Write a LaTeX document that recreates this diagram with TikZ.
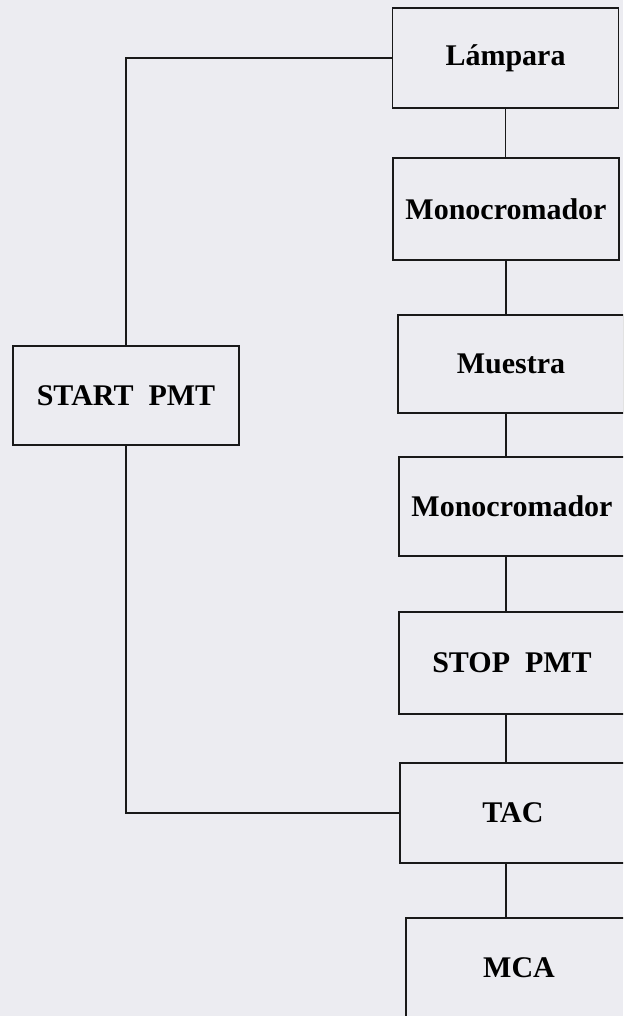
\documentclass[tikz,border=0pt]{standalone}
\usepackage{fontspec}
\setmainfont{Liberation Serif}
\definecolor{paper}{RGB}{236,236,241}
\definecolor{ink}{RGB}{25,25,25}
\begin{document}
\begin{tikzpicture}[x=1pt,y=-1pt,
  box/.style={draw=ink,line width=1.4pt,minimum width=226pt,minimum height=100pt,inner sep=0pt,
    font=\fontsize{30}{36}\selectfont\bfseries,text=black},
  wire/.style={draw=ink,line width=1.4pt}]
\useasboundingbox (0,0) rectangle (623,1016);
\fill[paper] (0,0) rectangle (623,1016);
\clip (0,0) rectangle (623,1016);
\node[box,minimum height=100pt] (lamp) at (505.5,58) {Lámpara};
\node[box,minimum height=102pt] (mono1) at (506,209) {Monocromador};
\node[box,minimum height=98pt] (muestra) at (511,364) {Muestra};
\node[box,minimum height=99pt] (mono2) at (512,506.5) {Monocromador};
\node[box,minimum height=102pt] (stop) at (512,663) {STOP\ \ PMT};
\node[box,minimum height=100pt] (tac) at (513,813) {TAC};
\node[box,minimum height=100pt] (mca) at (519,968) {MCA};
\node[box,minimum height=99pt] (start) at (126,395.5) {START\ \ PMT};
\draw[wire] (lamp.south) -- (lamp.south |- mono1.north);
\draw[wire] (mono1.south) -- (mono1.south |- muestra.north);
\draw[wire] (mono1.south |- muestra.south) -- (mono1.south |- mono2.north);
\draw[wire] (mono1.south |- mono2.south) -- (mono1.south |- stop.north);
\draw[wire] (mono1.south |- stop.south) -- (mono1.south |- tac.north);
\draw[wire] (mono1.south |- tac.south) -- (mono1.south |- mca.north);
\draw[wire] (lamp.west) -| (start.north);
\draw[wire] (start.south) |- (tac.west);
\end{tikzpicture}
\end{document}
